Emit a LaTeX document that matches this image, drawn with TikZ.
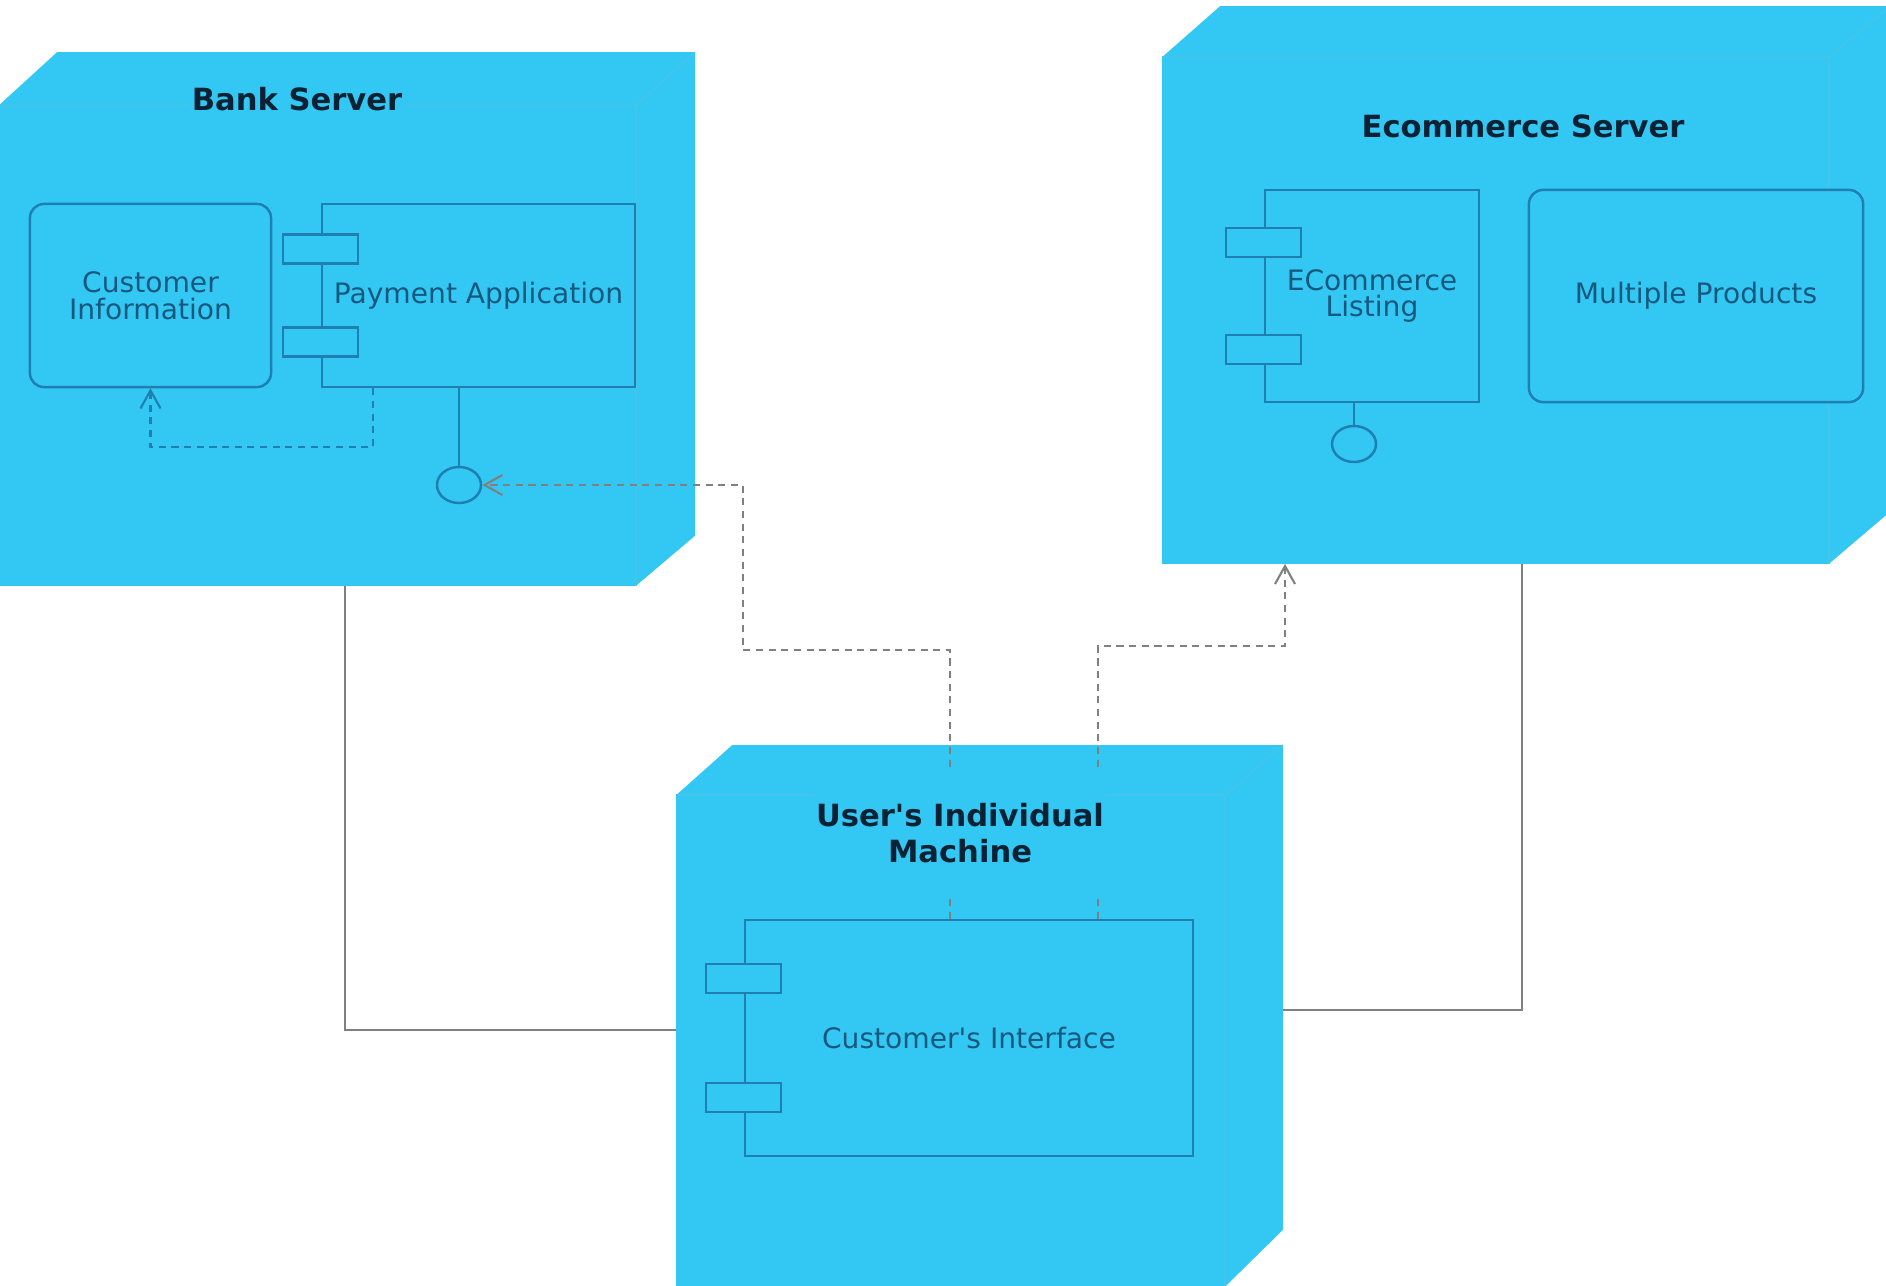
\documentclass[tikz,border=0pt]{standalone}
\usepackage{fontspec}
\setmainfont{DejaVu Sans}
\usetikzlibrary{positioning, calc, shapes.geometric, arrows.meta}

\definecolor{nodeface}{HTML}{33C8F3}
\definecolor{faceedge}{HTML}{45C4EA}
\definecolor{compline}{HTML}{1F7FB0}
\definecolor{titletext}{HTML}{0B2235}
\definecolor{labeltext}{HTML}{17587E}
\definecolor{linkgray}{HTML}{808080}

\tikzset{
    server/.style={rectangle, inner sep=0pt, draw=none},
    title/.style={font=\fontsize{8.7}{10.2}\selectfont\bfseries, text=titletext, fill=nodeface, align=center, inner sep=1pt},
    part/.style={rectangle, draw=compline, line width=0.7pt, fill=nodeface, text=labeltext, align=center, font=\fontsize{8}{7.6}\selectfont},
    port/.style={rectangle, draw=compline, line width=0.7pt, fill=nodeface, minimum width=0.75cm, minimum height=0.29cm, inner sep=0pt},
    iface/.style={ellipse, draw=compline, line width=0.7pt, fill=nodeface, minimum width=0.44cm, minimum height=0.36cm, inner sep=0pt},
    link/.style={draw=linkgray, line width=0.7pt},
    dep/.style={line width=0.6pt, dash pattern=on 2pt off 1.6pt, -{Straight Barb[length=1.8mm, width=2mm]}}
}

\begin{document}
\begin{tikzpicture}[x=0.01cm, y=-0.01cm]
    \useasboundingbox (0,0) rectangle (1886,1285);

    % node bodies
    \node[server, minimum width=6.94cm, minimum height=5.32cm] (bank) at (347,319) {};
    \node[server, minimum width=7.26cm, minimum height=5.56cm] (ecom) at (1526,285) {};
    \node[server, minimum width=6.05cm, minimum height=5.40cm] (user) at (979.5,1016) {};

    \fill[nodeface] ([yshift=-0.53cm]bank.north west) -- ([xshift=0.58cm]bank.north west) -- (bank.north east) -- ([yshift=0.5cm]bank.south east) -- ([xshift=-0.59cm]bank.south east) -- (bank.south west) -- cycle;
    \draw[faceedge] ([yshift=-0.53cm]bank.north west) -- ([xshift=-0.59cm, yshift=-0.53cm]bank.north east) -- ([xshift=-0.59cm]bank.south east);
    \draw[faceedge] ([xshift=-0.59cm, yshift=-0.53cm]bank.north east) -- (bank.north east);

    \fill[nodeface] ([yshift=-0.51cm]ecom.north west) -- ([xshift=0.58cm]ecom.north west) -- (ecom.north east) -- ([yshift=0.52cm]ecom.south east) -- ([xshift=-0.61cm]ecom.south east) -- (ecom.south west) -- cycle;
    \draw[faceedge] ([yshift=-0.51cm]ecom.north west) -- ([xshift=-0.61cm, yshift=-0.51cm]ecom.north east) -- ([xshift=-0.61cm]ecom.south east);
    \draw[faceedge] ([xshift=-0.61cm, yshift=-0.51cm]ecom.north east) -- (ecom.north east);

    \fill[nodeface] ([yshift=-0.50cm]user.north west) -- ([xshift=0.56cm]user.north west) -- (user.north east) -- ([yshift=0.57cm]user.south east) -- ([xshift=-0.58cm]user.south east) -- (user.south west) -- cycle;
    \draw[faceedge] ([yshift=-0.50cm]user.north west) -- ([xshift=-0.58cm, yshift=-0.50cm]user.north east) -- ([xshift=-0.58cm]user.south east);
    \draw[faceedge] ([xshift=-0.58cm, yshift=-0.50cm]user.north east) -- (user.north east);

    % components
    \node[part, rounded corners=0.14cm, minimum width=2.41cm, minimum height=1.83cm] (cust) at (150.5,295.5) {Customer\\Information};
    \node[part, minimum width=3.13cm, minimum height=1.83cm] (pay) at (478.5,295.5) {Payment Application};
    \node[part, minimum width=2.14cm, minimum height=2.12cm] (list) at (1372,296) {ECommerce\\Listing};
    \node[part, rounded corners=0.14cm, minimum width=3.34cm, minimum height=2.12cm] (prod) at (1696,296) {Multiple Products};

    \node[port] (payp1) at ($(pay.north west)!0.25!(pay.south west)$) {};
    \node[port] (payp2) at ($(pay.north west)!0.75!(pay.south west)$) {};
    \node[port] (listp1) at ($(list.north west)!0.25!(list.south west)$) {};
    \node[port] (listp2) at ($(list.north west)!0.75!(list.south west)$) {};

    \node[iface] (ifbank) at (459,485) {};
    \node[iface] (iflist) at (1354,444) {};
    \draw[compline, line width=0.7pt] (pay.south -| ifbank) -- (ifbank.north);
    \draw[compline, line width=0.7pt] (list.south -| iflist) -- (iflist.north);

    % connectors
    \coordinate (d1) at (373,447);
    \draw[dep, compline] (pay.south -| d1) |- (cust.south |- d1) -- (cust.south);

    \coordinate (u1) at (950,650);
    \coordinate (u2) at (743,650);
    \coordinate (u3) at (1098,646);
    \coordinate (u4) at (1285,646);
    \coordinate (s1) at (345,1030);
    \coordinate (s2) at (1522,1010);

    \node[part, minimum width=4.48cm, minimum height=2.36cm] (ci) at (969,1038) {Customer\textquotesingle s Interface};
    \draw[dep, linkgray] (ci.north -| u1) -- (u1) -- (u2) |- (ifbank.east);
    \draw[dep, linkgray] (ci.north -| u3) -- (u3) -- (u4) -- (ecom.south -| u4);
    \draw[link] (bank.south -| s1) |- (user.west |- s1);
    \draw[link] (ecom.south -| s2) |- (user.east |- s2);

    \node[port] (cip1) at ($(ci.north west)!0.25!(ci.south west)$) {};
    \node[port] (cip2) at ($(ci.north west)!0.75!(ci.south west)$) {};

    % titles
    \node[title] (banktitle) at (297,99) {Bank Server};
    \node[title] (ecomtitle) at (1523,126) {Ecommerce Server};
    \node[title, minimum height=1.26cm] (usertitle) at (960,833) {User\textquotesingle s Individual\\Machine};
\end{tikzpicture}
\end{document}
